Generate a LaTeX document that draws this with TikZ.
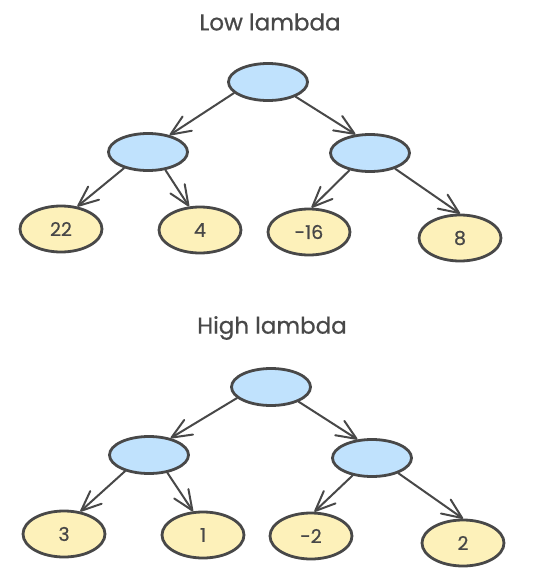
\documentclass[tikz,border=0pt]{standalone}
\usepackage{fontspec}
\setmainfont{Poppins}
\newfontfamily\inkfont{Poppins}[FakeBold=0.7]
\usepackage{tikz}
\usetikzlibrary{
  shapes.geometric,
  arrows.meta
}
\definecolor{inkgray}{RGB}{72, 72, 72}
\definecolor{splitblue}{RGB}{192, 226, 253}
\definecolor{leafyellow}{RGB}{253, 241, 186}
\tikzset{
  splitnode/.style = {
    ellipse, draw=inkgray, line width=2.8pt,
    fill=splitblue, minimum width=79pt, minimum height=37pt,
    inner sep=0pt
  },
  leafnode/.style = {
    ellipse, draw=inkgray, line width=2.8pt,
    fill=leafyellow, minimum width=82pt, minimum height=46pt,
    inner sep=0pt, text=inkgray, font=\inkfont\fontsize{19}{22}\selectfont
  },
  titletext/.style = {text=inkgray, font=\inkfont\fontsize{23}{26}\selectfont},
  arr/.style = {-{Straight Barb[length=20pt, width=17pt, line width=2pt, round]},
    draw=inkgray, line width=2pt, line cap=round},
}

\begin{document}
\begin{tikzpicture}[x=1pt, y=-1pt]
  \useasboundingbox (0,0) rectangle (557,582);

  % low lambda tree
  \node[titletext] (lowtitle) at (270,22) {Low lambda};
  \node[splitnode] (lowroot)  at (268,82)  {};
  \node[splitnode] (lowleft)  at (148,152) {};
  \node[splitnode] (lowright) at (370,153) {};
  \node[leafnode]  (lowa) at (61,229)  {22};
  \node[leafnode]  (lowb) at (200,230) {4};
  \node[leafnode]  (lowc) at (309,232) {-16};
  \node[leafnode]  (lowd) at (460,238) {8};

  \draw[arr] (lowroot.198)  -- (lowleft.38);
  \draw[arr] (lowroot.-28)  -- (lowright.128);
  \draw[arr] (lowleft.214)  -- (lowa.54);
  \draw[arr] (lowleft.-46)  -- (lowb.115);
  \draw[arr] (lowright.220) -- (lowc.84);
  \draw[arr] (lowright.-32) -- (lowd.90);

  % high lambda tree
  \node[titletext] (hightitle) at (272,328) {High lambda};
  \node[splitnode] (highroot)  at (271,387) {};
  \node[splitnode] (highleft)  at (149,455) {};
  \node[splitnode] (highright) at (372,458) {};
  \node[leafnode]  (higha) at (64,534)  {3};
  \node[leafnode]  (highb) at (203,535) {1};
  \node[leafnode]  (highc) at (311,536) {-2};
  \node[leafnode]  (highd) at (463,543) {2};

  \draw[arr] (highroot.198)  -- (highleft.38);
  \draw[arr] (highroot.-28)  -- (highright.128);
  \draw[arr] (highleft.214)  -- (higha.54);
  \draw[arr] (highleft.-44)  -- (highb.113);
  \draw[arr] (highright.222) -- (highc.82);
  \draw[arr] (highright.-30) -- (highd.90);

\end{tikzpicture}
\end{document}
